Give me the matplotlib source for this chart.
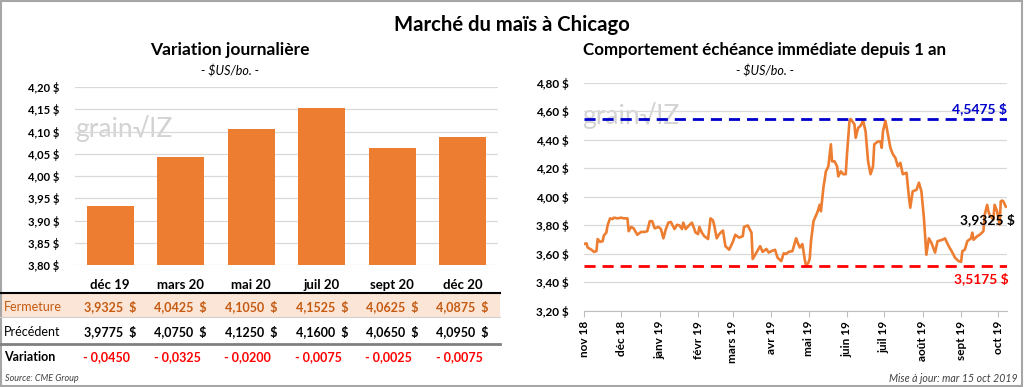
import numpy as np
import pandas as pd
import matplotlib
matplotlib.use('Agg')
import matplotlib.pyplot as plt
from matplotlib.patches import Rectangle
from matplotlib.lines import Line2D
from matplotlib.transforms import blended_transform_factory

plt.rcParams['font.family'] = ['Lato', 'DejaVu Sans']

# Left panel : daily variation by contract month
contracts = ['déc 19', 'mars 20', 'mai 20', 'juil 20', 'sept 20', 'déc 20']
fermeture = [3.9325, 4.0425, 4.1050, 4.1525, 4.0625, 4.0875]
precedent = [3.9775, 4.0750, 4.1250, 4.1600, 4.0650, 4.0950]

# Right panel : nearby contract over one year
dates = ['2018-11-01', '2018-11-03', '2018-11-04', '2018-11-07', '2018-11-09', '2018-11-11',
         '2018-11-12', '2018-11-14', '2018-11-16', '2018-11-17', '2018-11-19', '2018-11-20',
         '2018-11-22', '2018-11-24', '2018-11-25', '2018-11-28', '2018-12-01', '2018-12-03',
         '2018-12-06', '2018-12-07', '2018-12-09', '2018-12-11', '2018-12-14', '2018-12-17',
         '2018-12-20', '2018-12-22', '2018-12-24', '2018-12-26', '2018-12-28', '2018-12-31',
         '2019-01-02', '2019-01-04', '2019-01-06', '2019-01-08', '2019-01-10', '2019-01-13',
         '2019-01-15', '2019-01-17', '2019-01-19', '2019-01-20', '2019-01-22', '2019-01-24',
         '2019-01-27', '2019-01-30', '2019-02-01', '2019-02-02', '2019-02-04', '2019-02-06',
         '2019-02-09', '2019-02-11', '2019-02-13', '2019-02-14', '2019-02-16', '2019-02-18',
         '2019-02-21', '2019-02-23', '2019-02-26', '2019-03-01', '2019-03-03', '2019-03-06',
         '2019-03-09', '2019-03-10', '2019-03-13', '2019-03-16', '2019-03-17', '2019-03-20',
         '2019-03-23', '2019-03-25', '2019-03-28', '2019-03-30', '2019-04-01', '2019-04-04',
         '2019-04-06', '2019-04-09', '2019-04-11', '2019-04-13', '2019-04-15', '2019-04-18',
         '2019-04-21', '2019-04-22', '2019-04-24', '2019-04-26', '2019-04-28', '2019-04-29',
         '2019-05-01', '2019-05-02', '2019-05-03', '2019-05-05', '2019-05-08', '2019-05-10',
         '2019-05-11', '2019-05-13', '2019-05-15', '2019-05-17', '2019-05-19', '2019-05-20',
         '2019-05-22', '2019-05-24', '2019-05-25', '2019-05-27', '2019-05-29', '2019-05-31',
         '2019-06-01', '2019-06-03', '2019-06-04', '2019-06-07', '2019-06-08', '2019-06-10',
         '2019-06-12', '2019-06-14', '2019-06-16', '2019-06-18', '2019-06-20', '2019-06-22',
         '2019-06-23', '2019-06-26', '2019-06-28', '2019-06-29', '2019-06-30', '2019-07-02',
         '2019-07-04', '2019-07-06', '2019-07-08', '2019-07-10', '2019-07-12', '2019-07-14',
         '2019-07-16', '2019-07-19', '2019-07-21', '2019-07-22', '2019-07-24', '2019-07-27',
         '2019-07-29', '2019-07-31', '2019-08-02', '2019-08-04', '2019-08-06', '2019-08-08',
         '2019-08-11', '2019-08-13', '2019-08-17', '2019-08-19', '2019-08-22', '2019-08-25',
         '2019-08-27', '2019-08-30', '2019-09-01', '2019-09-02', '2019-09-04', '2019-09-06',
         '2019-09-09', '2019-09-10', '2019-09-11', '2019-09-14', '2019-09-16', '2019-09-19',
         '2019-09-20', '2019-09-22', '2019-09-23', '2019-09-24', '2019-09-27', '2019-09-28',
         '2019-09-30', '2019-10-02', '2019-10-03', '2019-10-04', '2019-10-05', '2019-10-07']
prix = [3.67, 3.675, 3.645, 3.63, 3.615, 3.62,
        3.705, 3.685, 3.69, 3.73, 3.75, 3.80,
        3.85, 3.845, 3.855, 3.85, 3.855, 3.85,
        3.85, 3.76, 3.79, 3.78, 3.735, 3.755,
        3.755, 3.76, 3.83, 3.83, 3.78, 3.79,
        3.775, 3.71, 3.775, 3.82, 3.825, 3.775,
        3.805, 3.80, 3.775, 3.82, 3.775, 3.795,
        3.82, 3.75, 3.74, 3.79, 3.75, 3.725,
        3.705, 3.85, 3.835, 3.80, 3.71, 3.74,
        3.765, 3.655, 3.63, 3.685, 3.735, 3.715,
        3.725, 3.79, 3.80, 3.75, 3.565, 3.61,
        3.655, 3.615, 3.635, 3.61, 3.62, 3.63,
        3.575, 3.55, 3.605, 3.60, 3.615, 3.62,
        3.71, 3.685, 3.645, 3.67, 3.56, 3.5175,
        3.54, 3.57, 3.69, 3.83, 3.89, 3.945,
        3.90, 4.065, 4.18, 4.215, 4.37, 4.25,
        4.25, 4.215, 4.145, 4.18, 4.16, 4.16,
        4.30, 4.53, 4.5475, 4.51, 4.415, 4.485,
        4.50, 4.535, 4.46, 4.25, 4.16, 4.215,
        4.37, 4.39, 4.39, 4.345, 4.46, 4.535,
        4.44, 4.345, 4.30, 4.275, 4.215, 4.24,
        4.16, 4.17, 3.995, 3.925, 4.04, 4.05,
        4.10, 4.04, 3.855, 3.595, 3.71, 3.68,
        3.61, 3.69, 3.70, 3.71, 3.655, 3.61,
        3.575, 3.55, 3.545, 3.62, 3.63, 3.69,
        3.71, 3.75, 3.70, 3.725, 3.735, 3.76,
        3.875, 3.945, 3.90, 3.875, 3.84, 3.945,
        3.90, 3.805, 3.97, 3.975, 3.97, 3.9325]
mois = ['nov 18', 'déc 18', 'janv 19', 'févr 19', 'mars 19', 'avr 19',
        'mai 19', 'juin 19', 'juil 19', 'août 19', 'sept 19', 'oct 19']

ORANGE = '#ED7D31'
GRID = '#D9D9D9'


def fr(v, n):
    return f'{v:.{n}f}'.replace('.', ',')


fig = plt.figure(figsize=(10.24, 3.87), dpi=100)

# titles
fig.text(0.5, 0.935, 'Marché du maïs à Chicago', ha='center', va='center',
         fontsize=14.6, fontweight='bold')
fig.text(0.2246, 0.871, 'Variation journalière', ha='center', va='center',
         fontsize=12.5, fontweight='bold')
fig.text(0.2246, 0.8165, '- $US/bo. -', ha='center', va='center', fontsize=9, style='italic')
fig.text(0.747, 0.871, 'Comportement échéance immédiate depuis 1 an', ha='center',
         va='center', fontsize=12.2, fontweight='bold')
fig.text(0.747, 0.8165, '- $US/bo. -', ha='center', va='center', fontsize=9, style='italic')

# ---------------- left : bars ----------------
ax1 = fig.add_axes([75 / 1024, 1 - 265 / 387, 423 / 1024, 178 / 387])
x = np.arange(len(contracts))
ax1.bar(x, fermeture, width=0.67, color=ORANGE, zorder=3)
ax1.set_xlim(-0.5, len(contracts) - 0.5)
ax1.set_ylim(3.80, 4.20)
ax1.set_yticks(np.arange(3.80, 4.2001, 0.05))
ax1.set_yticklabels([fr(t, 2) + ' $' for t in np.arange(3.80, 4.2001, 0.05)],
                    fontsize=8, fontweight='bold')
ax1.grid(axis='y', color=GRID, lw=0.9, zorder=0)
ax1.tick_params(axis='y', length=0, pad=11)
ax1.set_xticks([])
for s in ax1.spines.values():
    s.set_visible(False)
ax1.text(0.0, 0.72, 'grain\u221aIZ', transform=ax1.transAxes, fontsize=19,
         color='#C8C8C8', alpha=0.8, zorder=1)

# table under the bars
tr = blended_transform_factory(ax1.transData, fig.transFigure)
fig.add_artist(Rectangle((0, 0.1809), 0.488, 0.062, transform=fig.transFigure,
                         facecolor='#FBE5D6', edgecolor='none', zorder=0))
fig.add_artist(Line2D([0, 0.488], [0.2429, 0.2429], transform=fig.transFigure,
                      color='black', lw=1.5))
fig.add_artist(Line2D([0, 0.488], [0.1809, 0.1809], transform=fig.transFigure,
                      color='#D0D0D0', lw=0.8))
fig.add_artist(Line2D([0, 0.488], [0.111, 0.111], transform=fig.transFigure,
                      color='#808080', lw=2))

fig.text(0.004, 0.2067, 'Fermeture', fontsize=9, color='#C55A11', va='center')
fig.text(0.004, 0.1421, 'Précédent', fontsize=9, color='black', va='center')
fig.text(0.004, 0.0775, 'Variation', fontsize=9, color='black', va='center',
         fontweight='bold')
for i, c in enumerate(contracts):
    ax1.text(i, 0.2636, c, transform=tr, ha='center', va='center', fontsize=9.5,
             fontweight='bold')
    ax1.text(i, 0.2067, fr(fermeture[i], 4) + '  $', transform=tr, ha='center',
             va='center', fontsize=9, fontweight='bold', color='#C55A11')
    ax1.text(i, 0.1421, fr(precedent[i], 4) + '  $', transform=tr, ha='center',
             va='center', fontsize=9, fontweight='bold', color='black')
    d = fermeture[i] - precedent[i]
    ax1.text(i - 0.05, 0.0775, ('- ' if d < 0 else '+ ') + fr(abs(d), 4), transform=tr,
             ha='center', va='center', fontsize=9, fontweight='bold', color='#FF0000')

fig.text(0.005, 0.0207, 'Source: CME Group', fontsize=6.5, style='italic',
         color='#404040', va='center')

# ---------------- right : line ----------------
ax2 = fig.add_axes([584 / 1024, 1 - 311 / 387, 423 / 1024, 228 / 387])
dt = pd.to_datetime(dates)
ax2.plot(dt, prix, color=ORANGE, lw=1.9, zorder=3)
ax2.set_xlim(pd.Timestamp('2018-11-01'), pd.Timestamp('2019-10-08'))
ax2.set_ylim(3.20, 4.80)
yt = np.arange(3.20, 4.8001, 0.20)
ax2.set_yticks(yt)
ax2.set_yticklabels([fr(t, 2) + ' $' for t in yt], fontsize=8.5, fontweight='bold')
ax2.grid(axis='y', color=GRID, lw=0.9, zorder=0)
ax2.tick_params(axis='y', length=0, pad=11)
mt = pd.date_range('2018-11-01', '2019-10-01', freq='MS')
ax2.set_xticks(mt)
ax2.set_xticklabels(mois, rotation=90, fontsize=8.5, fontweight='bold')
ax2.tick_params(axis='x', length=4, color='#BFBFBF', pad=3)
for s in ['top', 'right', 'left']:
    ax2.spines[s].set_visible(False)
ax2.spines['bottom'].set_color('#BFBFBF')

haut = max(prix)
bas = min(prix)
ax2.axhline(haut, color='#0000CC', lw=2, ls=(0, (4, 2.5)), zorder=4)
ax2.axhline(bas, color='#FF0000', lw=2, ls=(0, (4, 2.5)), zorder=4)
xr = ax2.get_xlim()[1]
ax2.text(xr, haut + 0.03, fr(haut, 4) + ' $', ha='right', va='bottom', fontsize=10,
         fontweight='bold', color='#0000CC')
ax2.text(xr + 1, bas - 0.045, fr(bas, 4) + ' $', ha='right', va='top', fontsize=10,
         fontweight='bold', color='#FF0000')
ax2.annotate(fr(prix[-1], 4) + ' $', xy=(dt[-1], prix[-1]), xytext=(6.5, -9),
             textcoords='offset points', ha='right', va='center', fontsize=10,
             fontweight='bold', color='black', zorder=5)
ax2.text(-0.005, 0.82, 'grain\u221aIZ', transform=ax2.transAxes, fontsize=19,
         color='#C8C8C8', alpha=0.8, zorder=1)

fig.text(0.994, 0.0207, 'Mise à jour: mar 15 oct 2019', fontsize=7.6, style='italic',
         color='#404040', ha='right', va='center')

# frame
fig.add_artist(Rectangle((0.001, 0.002), 0.997, 0.995, transform=fig.transFigure,
                         fill=False, edgecolor='#A6A6A6', lw=1.5))

fig.savefig('out.png', dpi=100)
